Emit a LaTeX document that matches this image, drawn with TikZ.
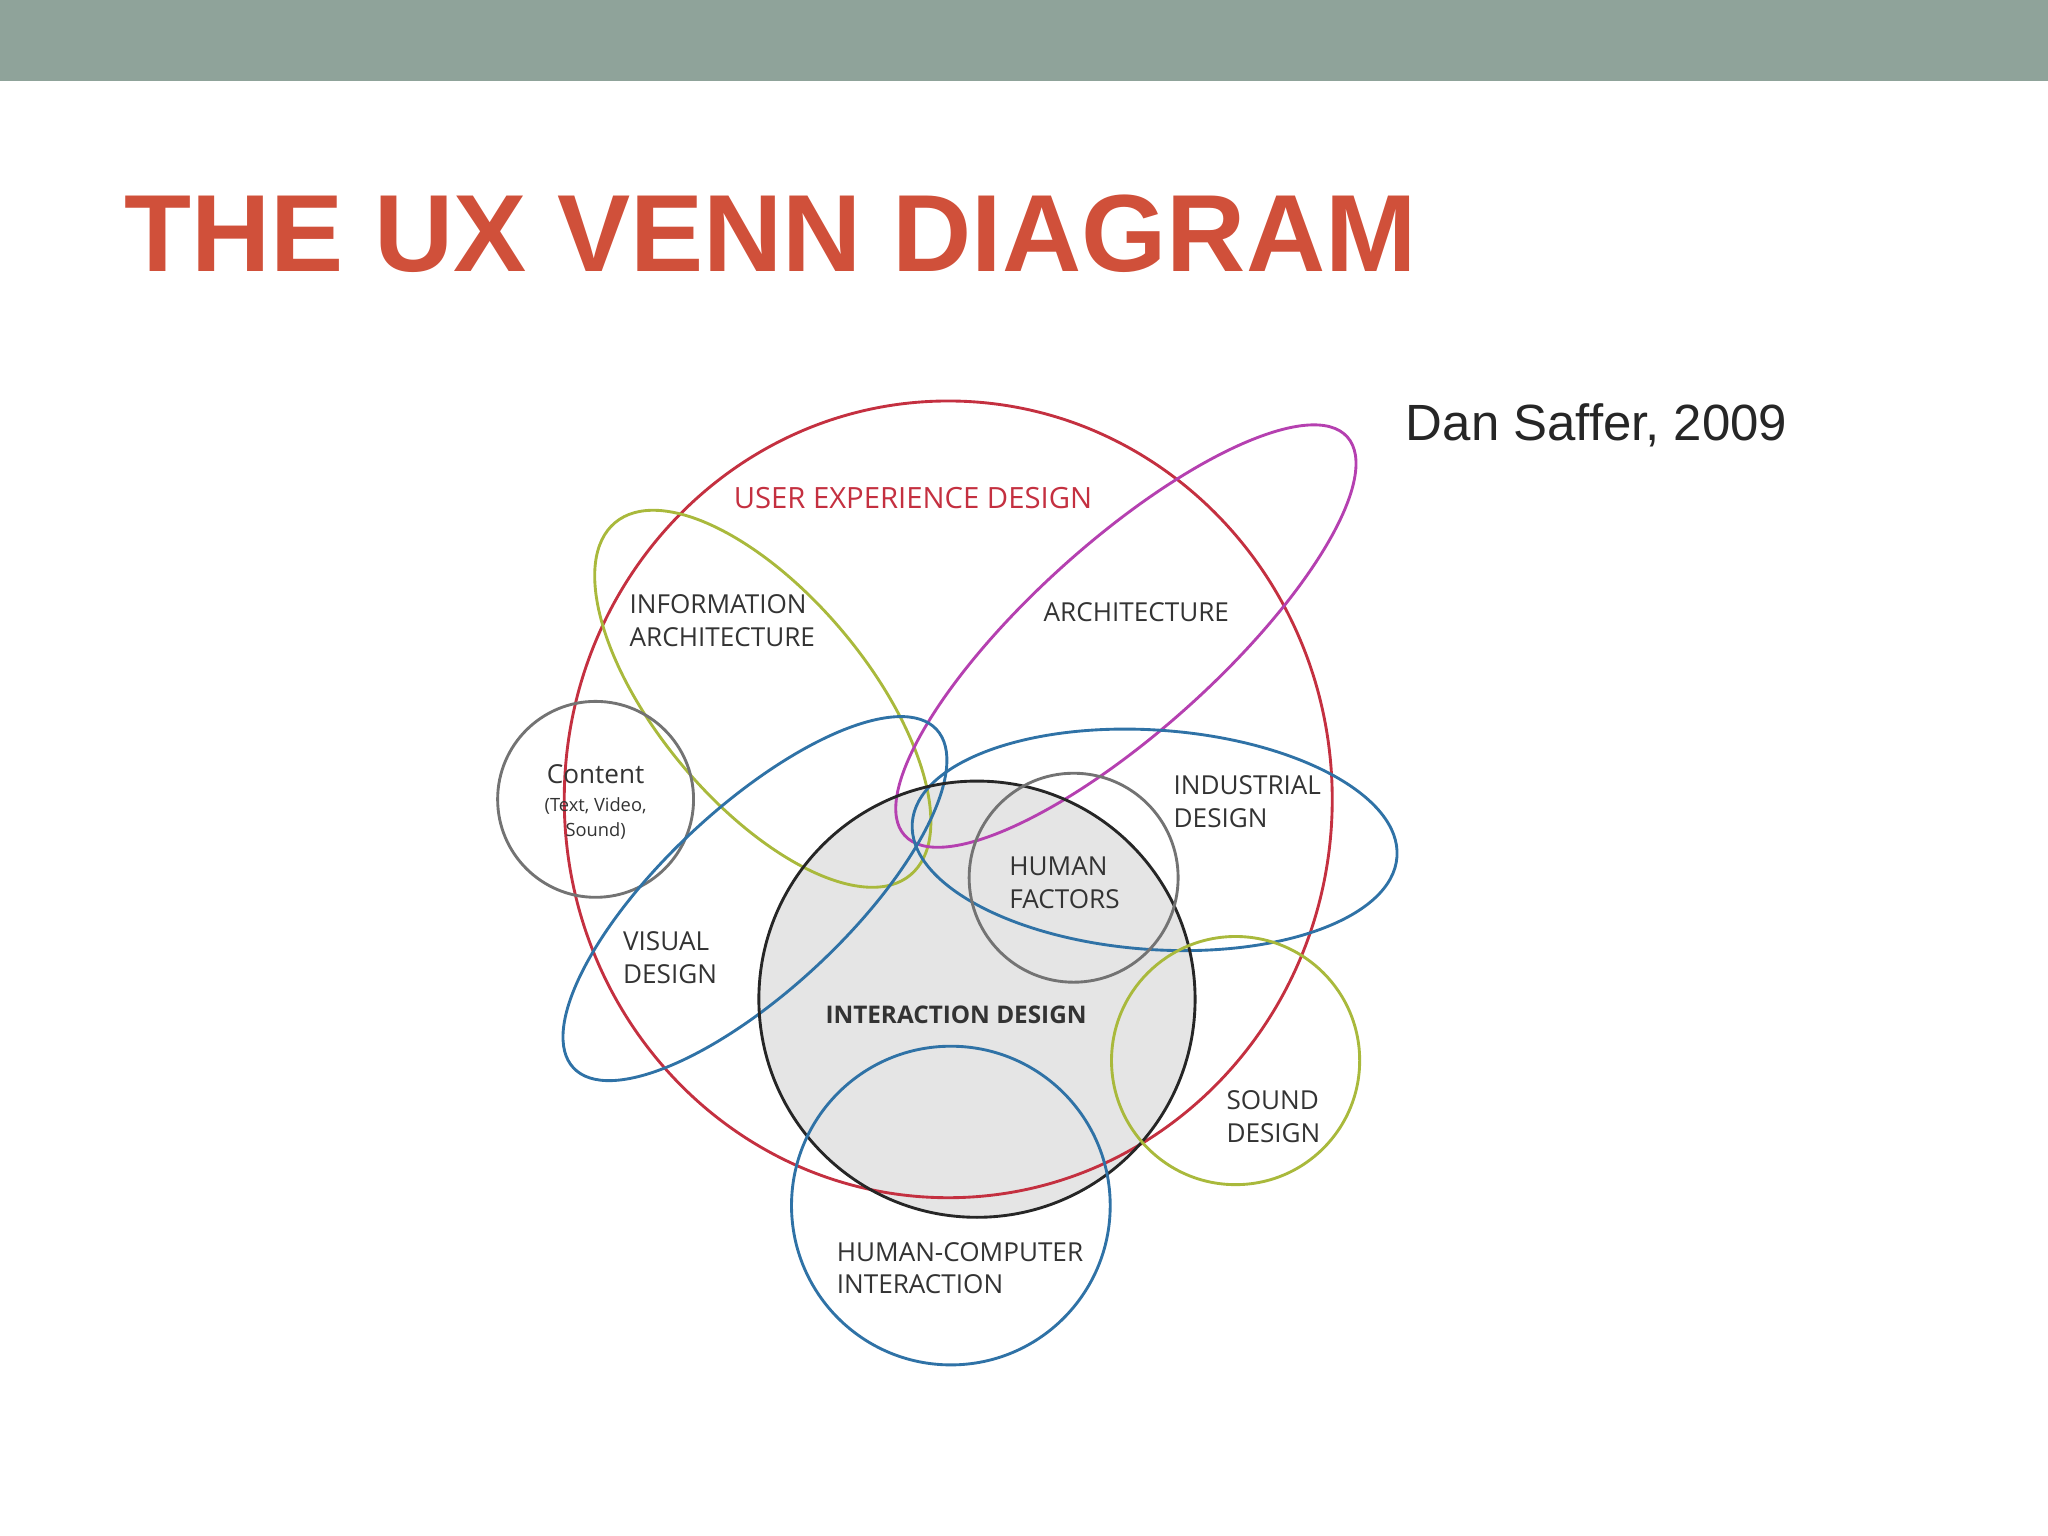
\documentclass[tikz,border=0pt]{standalone}
\usepackage{fontspec}
\setmainfont{Liberation Sans}
\newfontfamily\lab{Open Sans}
\begin{document}
\begin{tikzpicture}[x=0.5pt,y=-0.5pt,
  ring/.style={line width=1.1pt},
  lbl/.style={font=\lab\fontsize{10}{12.5}\selectfont,align=left,text=black!80},
  lblc/.style={font=\lab\fontsize{10}{12.5}\selectfont,align=center,text=black!80}]
\definecolor{bar}{HTML}{8FA39A}
\definecolor{ttl}{HTML}{D0503A}
\definecolor{uxred}{HTML}{C43040}
\definecolor{olive}{HTML}{A9B93C}
\definecolor{mag}{HTML}{B540B0}
\definecolor{blu}{HTML}{2F72A6}
\useasboundingbox (0,0) rectangle (1568,1176);
\fill[bar] (0,0) rectangle (1568,62);
\node[anchor=base west,inner sep=0,text=ttl,font=\bfseries\fontsize{42}{50}\selectfont] (title) at (95,208) {THE UX VENN DIAGRAM};
\node[anchor=base west,inner sep=0,text=black!85,font=\fontsize{19.5}{24}\selectfont] (author) at (1076,337) {Dan Saffer, 2009};
% interaction design fill
\fill[black!10] (748,765) circle (167);
% shapes
\draw[ring,uxred] (726,612) ellipse [x radius=294,y radius=305];
\draw[ring,olive] (584,535) ellipse [x radius=176,y radius=80,rotate=-50];
\draw[ring,mag] (862,487) ellipse [x radius=228,y radius=72,rotate=42];
\draw[ring,black!55] (456,612) circle (75);
\draw[ring,blu] (578,688) ellipse [x radius=190,y radius=70,rotate=43];
\draw[ring,blu] (884,643) ellipse [x radius=186,y radius=84,rotate=-4];
\draw[ring,black!85] (748,765) circle (167);
\draw[ring,black!55] (822,672) circle (80);
\draw[ring,olive] (946,812) circle (95);
\draw[ring,blu] (728,923) circle (122);
% labels
\node[lblc,text=uxred,font=\lab\fontsize{11.2}{13}\selectfont] (ux) at (699,381) {USER EXPERIENCE DESIGN};
\node[lbl] (ia) at (553,475) {INFORMATION\\ARCHITECTURE};
\node[lbl] (arch) at (870,469) {ARCHITECTURE};
\node[lblc] (content) at (456,614) {Content\\[-2pt]{\fontsize{7}{9}\selectfont (Text, Video,}\\[-3pt]{\fontsize{7}{9}\selectfont Sound)}};
\node[lbl] (ind) at (955,614) {INDUSTRIAL\\DESIGN};
\node[lbl] (hf) at (815,676) {HUMAN\\FACTORS};
\node[lbl] (vis) at (513,733) {VISUAL\\DESIGN};
\node[lblc,font=\lab\bfseries\fontsize{9.3}{12}\selectfont] (ixd) at (732,777) {INTERACTION DESIGN};
\node[lbl] (snd) at (975,855) {SOUND\\DESIGN};
\node[lbl] (hci) at (735,971) {HUMAN-COMPUTER\\INTERACTION};
\end{tikzpicture}
\end{document}
